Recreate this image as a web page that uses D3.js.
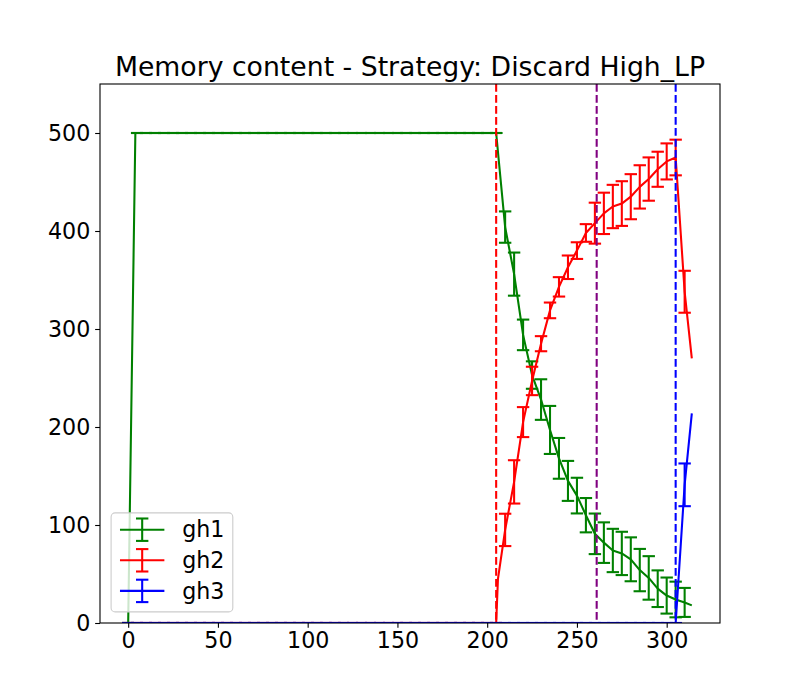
<!DOCTYPE html>
<html><head><meta charset="utf-8">
<script src="https://cdn.jsdelivr.net/npm/d3@7"></script>
<style>body{margin:0;background:#fff} svg{display:block} text{font-family:"DejaVu Sans",sans-serif}</style>
</head><body><div id="chart"></div>
<script>
// ---------- data ----------
const steps = [0,5,10,15,20,25,30,35,40,45,50,55,60,65,70,75,80,85,90,95,100,105,110,115,120,125,130,135,140,145,150,155,160,165,170,175,180,185,190,195,200,205,210,215,220,225,230,235,240,245,250,255,260,265,270,275,280,285,290,295,300,305,310];
const gh1Mean = [0,500,500,500,500,500,500,500,500,500,500,500,500,500,500,500,500,500,500,500,500,500,500,500,500,500,500,500,500,500,500,500,500,500,500,500,500,500,500,500,500,500,
  404,356,294,253,228,197,168,145,130,110,91,82,74,71,65,54,46,35,28,24,21];
const gh1Err = [0,0,0,0,0,0,0,0,0,0,0,0,0,0,0,0,0,0,0,0,0,0,0,0,0,0,0,0,0,0,0,0,0,0,0,0,0,0,0,0,0,0,
  16,22,15.6,14,20.7,24.5,20.8,20.4,18.2,17.5,20.7,20.7,22.1,22.1,22.4,21.6,22.2,18.7,18.4,18.2,14.8];
const gh2Mean = [0,0,0,0,0,0,0,0,0,0,0,0,0,0,0,0,0,0,0,0,0,0,0,0,0,0,0,0,0,0,0,0,0,0,0,0,0,0,0,0,0,0,
  95,144,205,247,285,319,343,363,380,398,408,418,425,428,435,445,453,463,471,475,338];
const gh2Err = [0,0,0,0,0,0,0,0,0,0,0,0,0,0,0,0,0,0,0,0,0,0,0,0,0,0,0,0,0,0,0,0,0,0,0,0,0,0,0,0,0,0,
  16.5,22.1,15.3,14.5,7.7,8,9.9,12,8.5,9,20.9,21.1,22.1,22.8,23,22.1,22.1,17.9,18.4,18.2,21.4];
const gh3Mean = [0,0,0,0,0,0,0,0,0,0,0,0,0,0,0,0,0,0,0,0,0,0,0,0,0,0,0,0,0,0,0,0,0,0,0,0,0,0,0,0,0,0,
  0,0,0,0,0,0,0,0,0,0,0,0,0,0,0,0,0,0,0,0,141];
const gh3Err = [0,0,0,0,0,0,0,0,0,0,0,0,0,0,0,0,0,0,0,0,0,0,0,0,0,0,0,0,0,0,0,0,0,0,0,0,0,0,0,0,0,0,
  0,0,0,0,0,0,0,0,0,0,0,0,0,0,0,0,0,0,0,0,21.8];
// extra line-only samples (no error bar drawn there)
const gh1Extra = [[4,500],[314,18]];
const gh2Extra = [[206,45],[314,270]];
const gh3Extra = [[314,214]];
const seriesNames = ["gh1","gh2","gh3"];
const phaseSwitches = [205, 261, 305];
const xTicks = [0,50,100,150,200,250,300];
const yTicks = [0,100,200,300,400,500];
const yMax = 550;
const titleText = "Memory content - Strategy: Discard High_LP";

// ---------- layout ----------
const W=800,H=700,L=100,R=720,T=84,B=623;
const colors = ["#008000","#ff0000","#0000ff"];
const switchColors = ["#ff0000","#800080","#0000ff"];
const LW = 2.08, CAP = 6.2, FS = 22.2;

const series = [
  {name:seriesNames[0], mean:gh1Mean, err:gh1Err, extra:gh1Extra},
  {name:seriesNames[1], mean:gh2Mean, err:gh2Err, extra:gh2Extra},
  {name:seriesNames[2], mean:gh3Mean, err:gh3Err, extra:gh3Extra}
];
series.forEach(s=>{
  const pts = steps.map((t,i)=>[t,s.mean[i]]).concat(s.extra);
  pts.sort((a,b)=>a[0]-b[0]);
  s.line = pts;
  s.bars = steps.map((t,i)=>({t, m:s.mean[i], e:s.err[i]}));
});
const allX = series.flatMap(s=>s.line.map(p=>p[0]));
const [x0,x1] = d3.extent(allX);
const pad = (x1-x0)*0.05;
const x = d3.scaleLinear().domain([x0-pad,x1+pad]).range([L,R]);
const y = d3.scaleLinear().domain([0,yMax]).range([B,T]);

const svg = d3.select("#chart").append("svg").attr("width",W).attr("height",H);
svg.append("rect").attr("width",W).attr("height",H).attr("fill","#fff");
svg.append("defs").append("clipPath").attr("id","clip")
  .append("rect").attr("x",L).attr("y",T).attr("width",R-L).attr("height",B-T);

const plot = svg.append("g").attr("clip-path","url(#clip)");
const lineGen = d3.line().x(d=>x(d[0])).y(d=>y(d[1]));

series.forEach((s,k)=>{
  const g = plot.append("g");
  g.append("path").attr("d",lineGen(s.line)).attr("fill","none")
    .attr("stroke",colors[k]).attr("stroke-width",LW).attr("stroke-linejoin","round");
  g.selectAll(".bar").data(s.bars).join("line")
    .attr("x1",d=>x(d.t)).attr("x2",d=>x(d.t))
    .attr("y1",d=>y(d.m-d.e)).attr("y2",d=>y(d.m+d.e))
    .attr("stroke",colors[k]).attr("stroke-width",LW);
  ["lo","hi"].forEach(side=>{
    g.selectAll(".cap"+side).data(s.bars).join("line")
      .attr("x1",d=>x(d.t)-CAP).attr("x2",d=>x(d.t)+CAP)
      .attr("y1",d=>y(side==="lo"?d.m-d.e:d.m+d.e)).attr("y2",d=>y(side==="lo"?d.m-d.e:d.m+d.e))
      .attr("stroke",colors[k]).attr("stroke-width",LW);
  });
});

plot.selectAll(".vl").data(phaseSwitches).join("line")
  .attr("x1",d=>x(d)).attr("x2",d=>x(d)).attr("y1",T).attr("y2",B)
  .attr("stroke",(d,i)=>switchColors[i]).attr("stroke-width",LW)
  .attr("stroke-dasharray","7.7,3.3");

// axes
const xAxis = svg.append("g").attr("transform",`translate(0,${B})`)
  .call(d3.axisBottom(x).tickValues(xTicks).tickFormat(d3.format("d")).tickSize(4.86).tickPadding(4.86));
const yAxis = svg.append("g").attr("transform",`translate(${L},0)`)
  .call(d3.axisLeft(y).tickValues(yTicks).tickFormat(d3.format("d")).tickSize(4.86).tickPadding(4.86));
[xAxis,yAxis].forEach(a=>{
  a.select(".domain").remove();
  a.selectAll(".tick line").attr("stroke","#000").attr("stroke-width",1.1);
  a.selectAll(".tick text").attr("fill","#000").attr("font-size",FS).attr("font-family","DejaVu Sans");
});
svg.append("rect").attr("x",L).attr("y",T).attr("width",R-L).attr("height",B-T)
  .attr("fill","none").attr("stroke","#000").attr("stroke-width",1.1);

// title
svg.append("text").attr("x",(L+R)/2).attr("y",T-8.3).attr("text-anchor","middle")
  .attr("font-size",26.7).attr("fill","#000").text(titleText);

// legend
const lg = svg.append("g");
const lx = L + 0.5*FS, lyB = B - 0.5*FS;
const rowH = 30.6, nRows = series.length;
const boxH = 99, boxW = 121.7;
lg.append("rect").attr("x",lx).attr("y",lyB-boxH).attr("width",boxW).attr("height",boxH)
  .attr("rx",4).attr("fill","#fff").attr("fill-opacity",0.8).attr("stroke","#cccccc").attr("stroke-width",1.1);
series.forEach((s,k)=>{
  const cy = lyB - boxH + 16.8 + k*rowH;
  const hx0 = lx + 0.4*FS, hx1 = hx0 + 2*FS, hc = (hx0+hx1)/2;
  lg.append("line").attr("x1",hx0).attr("x2",hx1).attr("y1",cy).attr("y2",cy).attr("stroke",colors[k]).attr("stroke-width",LW);
  lg.append("line").attr("x1",hc).attr("x2",hc).attr("y1",cy-11.2).attr("y2",cy+11.2).attr("stroke",colors[k]).attr("stroke-width",LW);
  [cy-11.2,cy+11.2].forEach(yy=>lg.append("line").attr("x1",hc-CAP).attr("x2",hc+CAP).attr("y1",yy).attr("y2",yy).attr("stroke",colors[k]).attr("stroke-width",LW));
  lg.append("text").attr("x",hx1+0.8*FS).attr("y",cy).attr("dy","0.35em").attr("font-size",FS).attr("fill","#000").text(s.name);
});
</script></body></html>
